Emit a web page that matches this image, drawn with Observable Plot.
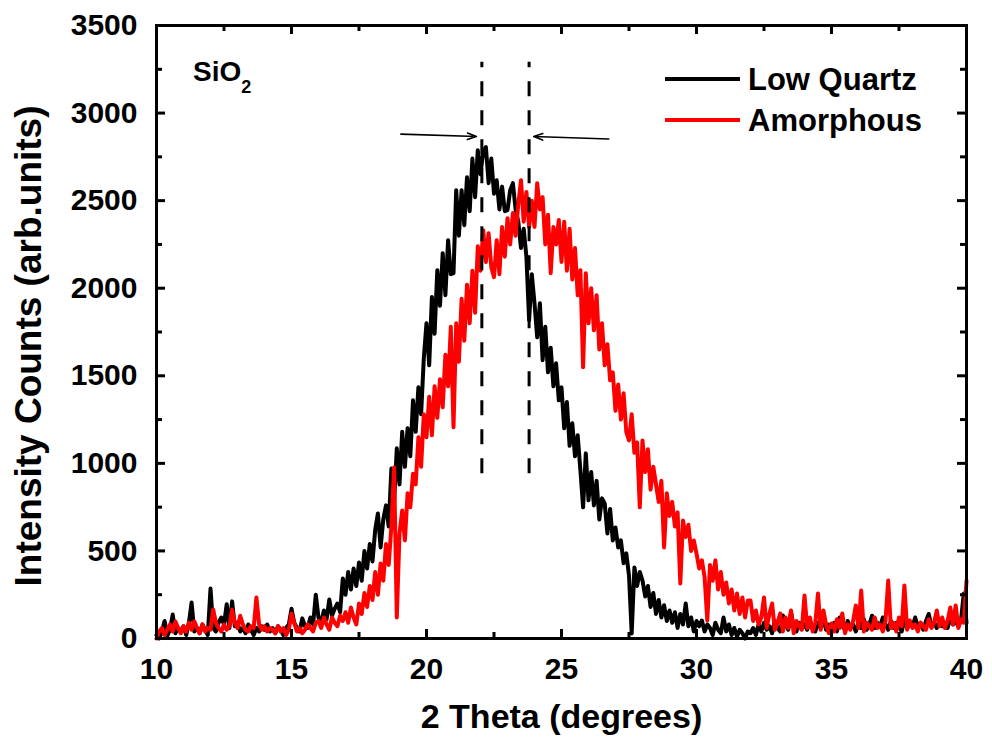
<!DOCTYPE html>
<html>
<head>
<meta charset="utf-8">
<script src="https://cdn.jsdelivr.net/npm/d3@7"></script>
<script src="https://cdn.jsdelivr.net/npm/@observablehq/plot@0.6"></script>
<style>
  html, body { margin: 0; padding: 0; background: #fff; }
  #chart svg { display: block; }
</style>
</head>
<body>
<div id="chart"></div>
<script>
// ---- Data (2θ from 10 to 40 in 0.1° steps) ----
const thetaStart = 10;
const thetaStep = 0.1;

const lowQuartz = [
  20, 0, 40, 100, 15, 50, 137, 30, 60, 40,
  70, 20, 90, 205, 40, 60, 30, 80, 50, 20,
  285, 60, 40, 90, 120, 80, 195, 60, 212, 70,
  90, 40, 60, 30, 80, 50, 20, 60, 40, 70,
  50, 80, 40, 60, 30, 70, 50, 20, 60, 80,
  170, 90, 60, 40, 115, 70, 60, 120, 80, 250,
  120, 90, 160, 110, 223, 130, 170, 200, 150, 343,
  250, 380, 280, 400, 300, 434, 330, 500, 400, 540,
  440, 620, 714, 520, 680, 760, 640, 971, 780, 1086,
  880, 1180, 980, 1200, 1040, 1360, 1180, 1434, 1280, 1600,
  1800, 1560, 1950, 1740, 2103, 1900, 2200, 1960, 2274, 2080,
  2086, 2560, 2300, 2560, 2360, 2633, 2440, 2740, 2520, 2788,
  2650, 2780, 2806, 2600, 2740, 2540, 2616, 2450, 2580, 2440,
  2446, 2560, 2600, 2450, 2380, 2230, 2340, 2180, 1817, 2080,
  1914, 1720, 1914, 1589, 1780, 1520, 1660, 1440, 1571, 1360,
  1434, 1200, 1350, 1100, 1229, 1040, 1160, 960, 749, 1057,
  789, 950, 760, 900, 680, 800, 771, 600, 740, 560,
  634, 520, 560, 430, 486, 360, 29, 406, 300, 380,
  331, 240, 300, 180, 260, 140, 220, 120, 190, 100,
  160, 90, 150, 60, 140, 80, 200, 70, 120, 40,
  100, 70, 103, 40, 80, 60, 20, 90, 50, 30,
  120, 40, 80, 20, 60, 10, 50, 30, 0, 40,
  30, 60, 20, 80, 40, 90, 50, 70, 30, 100,
  60, 40, 131, 80, 50, 149, 70, 40, 90, 60,
  80, 50, 100, 70, 40, 90, 60, 110, 50, 80,
  60, 90, 40, 120, 70, 50, 100, 60, 80, 40,
  90, 60, 110, 50, 80, 130, 60, 90, 70, 120,
  80, 50, 100, 60, 90, 70, 40, 110, 60, 80,
  70, 120, 60, 90, 50, 100, 140, 70, 90, 60,
  100, 70, 90, 60, 120, 80, 100, 70, 110, 257,
  90
];

const amorphous = [
  0, 40, 60, 20, 50, 80, 40, 97, 60, 30,
  70, 40, 90, 50, 98, 60, 30, 80, 40, 60,
  50, 166, 90, 60, 40, 80, 50, 70, 165, 90,
  60, 130, 80, 50, 40, 70, 60, 234, 80, 50,
  70, 40, 60, 50, 30, 70, 40, 60, 20, 50,
  143, 90, 40, 60, 30, 50, 80, 60, 40, 90,
  100, 60, 120, 80, 50, 120, 90, 70, 130, 100,
  150, 90, 177, 120, 80, 200, 140, 260, 180, 300,
  220, 380, 250, 428, 330, 540, 420, 640, 977, 120,
  600, 731, 560, 830, 749, 940, 880, 1149, 980, 1280,
  1149, 1380, 1160, 1440, 1260, 1480, 1320, 1620, 1440, 1780,
  1206, 1800, 1580, 1940, 1700, 2020, 1800, 2100, 1860, 2240,
  2100, 2331, 2150, 2314, 2120, 2063, 2274, 2080, 2350, 2180,
  2400, 2250, 2429, 2300, 2480, 2617, 2380, 2550, 2349, 2500,
  2350, 2600, 2450, 2520, 2250, 2420, 2086, 2350, 2250, 2389,
  2150, 2380, 2100, 2340, 2050, 2230, 1960, 2103, 1549, 2086,
  1800, 2000, 1760, 1960, 1650, 1800, 1560, 1680, 1474, 1520,
  1300, 1450, 1250, 1400, 1180, 1131, 1280, 1060, 1120, 749,
  1131, 950, 1080, 850, 980, 880, 780, 900, 520, 829,
  700, 780, 640, 720, 314, 674, 580, 650, 500, 560,
  486, 400, 446, 350, 103, 420, 330, 446, 280, 380,
  250, 320, 200, 280, 160, 257, 140, 234, 120, 217,
  217, 100, 160, 80, 120, 234, 60, 140, 200, 50,
  90, 143, 40, 120, 60, 160, 30, 100, 70, 50,
  246, 60, 120, 40, 90, 257, 50, 160, 80, 30,
  86, 40, 110, 60, 143, 30, 80, 50, 100, 189,
  60, 274, 40, 90, 70, 50, 120, 60, 80, 40,
  100, 331, 60, 90, 40, 120, 70, 303, 50, 103,
  60, 80, 40, 91, 70, 50, 110, 60, 90, 160,
  70, 120, 60, 100, 177, 80, 189, 60, 110, 90,
  331
];

const seriesNames = ["Low Quartz", "Amorphous"];
const seriesColors = ["#000000", "#ff0000"];

const xMajorTicks = [10, 15, 20, 25, 30, 35, 40];
const xMinorTicks = [12.5, 17.5, 22.5, 27.5, 32.5, 37.5];
const yMajorTicks = [0, 500, 1000, 1500, 2000, 2500, 3000, 3500];
const yMinorTicks = [250, 750, 1250, 1750, 2250, 2750, 3250];

// Peak-position markers (dashed) and arrows
const peakPositions = [22.05, 23.8];
const peakMarkerRange = [940, 3290];
const arrows = [
  {x1: 19.05, y1: 2880, x2: 21.85, y2: 2866},
  {x1: 26.75, y1: 2852, x2: 23.97, y2: 2866}
];

// ---- Build tables ----
const toRows = (vals, name) => vals.map((v, i) => ({
  theta: +(thetaStart + i * thetaStep).toFixed(2), counts: v, series: name
}));
const lqRows = toRows(lowQuartz, seriesNames[0]);
const amRows = toRows(amorphous, seriesNames[1]);

const W = 992, H = 751;
const mL = 156, mR = 26, mT = 25, mB = 113;
const innerW = W - mL - mR, innerH = H - mT - mB;
const font = "'Liberation Sans', Arial, sans-serif";

const plot = Plot.plot({
  width: W,
  height: H,
  marginLeft: mL,
  marginRight: mR,
  marginTop: mT,
  marginBottom: mB,
  style: {fontFamily: font, fontWeight: "bold", color: "#000", background: "#fff", overflow: "visible"},
  x: {domain: [10, 40]},
  y: {domain: [0, 3500]},
  marks: [
    Plot.line(lqRows, {x: "theta", y: "counts", stroke: seriesColors[0], strokeWidth: 4, strokeLinejoin: "round"}),
    Plot.line(amRows, {x: "theta", y: "counts", stroke: seriesColors[1], strokeWidth: 4, strokeLinejoin: "round"}),
    Plot.ruleX(peakPositions, {x: d => d, y1: peakMarkerRange[0], y2: peakMarkerRange[1], stroke: "black", strokeWidth: 3, strokeDasharray: "15,14"}),
    Plot.arrow(arrows, {x1: "x1", y1: "y1", x2: "x2", y2: "y2", stroke: "black", strokeWidth: 1.6, headLength: 9, headAngle: 40}),
    // inward ticks: bottom / top
    Plot.ruleX(xMajorTicks, {x: d => d, insetTop: innerH - 9, stroke: "black", strokeWidth: 3}),
    Plot.ruleX(xMajorTicks, {x: d => d, insetBottom: innerH - 9, stroke: "black", strokeWidth: 3}),
    Plot.ruleX(xMinorTicks, {x: d => d, insetTop: innerH - 6, stroke: "black", strokeWidth: 3}),
    Plot.ruleX(xMinorTicks, {x: d => d, insetBottom: innerH - 6, stroke: "black", strokeWidth: 3}),
    // inward ticks: left / right
    Plot.ruleY(yMajorTicks, {y: d => d, insetRight: innerW - 9, stroke: "black", strokeWidth: 3}),
    Plot.ruleY(yMajorTicks, {y: d => d, insetLeft: innerW - 9, stroke: "black", strokeWidth: 3}),
    Plot.ruleY(yMinorTicks, {y: d => d, insetRight: innerW - 6, stroke: "black", strokeWidth: 3}),
    Plot.ruleY(yMinorTicks, {y: d => d, insetLeft: innerW - 6, stroke: "black", strokeWidth: 3}),
    Plot.axisX({ticks: xMajorTicks, tickSize: 0, tickPadding: 19, tickFormat: d => String(d), fontSize: 30, fontWeight: "bold", label: null}),
    Plot.axisY({ticks: yMajorTicks, tickSize: 0, tickPadding: 19, tickFormat: d => String(d), fontSize: 30, fontWeight: "bold", label: null}),
    Plot.frame({stroke: "black", strokeWidth: 3}),
    Plot.text(["2 Theta (degrees)"], {frameAnchor: "bottom", dy: 79, lineAnchor: "middle", textAnchor: "middle", fontSize: 34, fontWeight: "bold", fill: "black"}),
    Plot.text(["Intensity Counts (arb.units)"], {frameAnchor: "left", dx: -127, dy: 14, rotate: -90, lineAnchor: "middle", textAnchor: "middle", fontSize: 37, fontWeight: "bold", fill: "black"})
  ]
});

// ---- In-plot annotations: SiO2 label and legend ----
const svg = d3.select(plot);
const sio = svg.append("text")
  .attr("x", 193).attr("y", 81)
  .attr("text-anchor", "start")
  .attr("font-family", font).attr("font-weight", "bold")
  .attr("font-size", 28).attr("fill", "black");
sio.append("tspan").text("SiO");
sio.append("tspan").attr("font-size", 18).attr("dy", 12).text("2");

const legendX = 665, legendY0 = 79, legendGap = 41;
seriesNames.forEach((name, i) => {
  const y = legendY0 + i * legendGap;
  svg.append("line")
    .attr("x1", legendX).attr("x2", legendX + 75)
    .attr("y1", y).attr("y2", y)
    .attr("stroke", seriesColors[i]).attr("stroke-width", 4);
  svg.append("text")
    .attr("x", legendX + 83).attr("y", y)
    .attr("dy", "0.36em")
    .attr("text-anchor", "start")
    .attr("font-family", font).attr("font-weight", "bold")
    .attr("font-size", 31).attr("fill", "black")
    .text(name);
});

document.getElementById("chart").appendChild(plot);
</script>
</body>
</html>
